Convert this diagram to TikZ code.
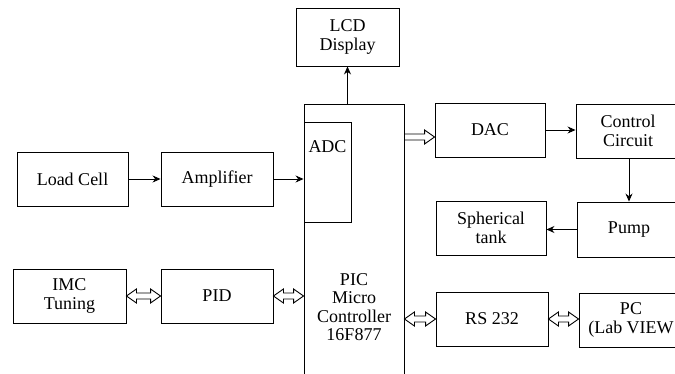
\documentclass[tikz,border=0pt]{standalone}
\usepackage{fontspec}
\setmainfont{Liberation Serif}
\usetikzlibrary{arrows.meta, calc}
% hollow (outline) arrows between two points on one level
\newcommand{\hollowto}[2]{%
  \draw let \p1=(#1), \p2=(#2) in
    (\x1,\y1+3pt) -- (\x2-10pt,\y1+3pt) -- (\x2-10pt,\y1+7pt) -- (\x2,\y1)
    -- (\x2-10pt,\y1-7pt) -- (\x2-10pt,\y1-3pt) -- (\x1,\y1-3pt);}
\newcommand{\hollowboth}[2]{%
  \draw let \p1=(#1), \p2=(#2) in
    (\x1,\y1) -- (\x1+10pt,\y1+7pt) -- (\x1+10pt,\y1+3pt) -- (\x2-10pt,\y1+3pt)
    -- (\x2-10pt,\y1+7pt) -- (\x2,\y1) -- (\x2-10pt,\y1-7pt) -- (\x2-10pt,\y1-3pt)
    -- (\x1+10pt,\y1-3pt) -- (\x1+10pt,\y1-7pt) -- cycle;}
\begin{document}
\begin{tikzpicture}[x=1pt, y=-1pt, every node/.style={draw, line width=0.9pt, align=center, inner sep=0pt, font=\rmfamily\fontsize{18}{18.5}\selectfont}, >={Stealth[length=8pt, width=7pt]}, line width=0.9pt]
  \useasboundingbox (0,0) rectangle (675,374);
  \clip (0,0) rectangle (675,374);
  % boxes
  \node[minimum width=103, minimum height=58] (lcd) at (347.5, 37) {LCD\\Display};
  \node[minimum width=100, minimum height=291] (pic) at (354, 249.5) {};
  \node[minimum width=47, minimum height=100, label={[draw=none, anchor=north, yshift=-19pt]north:ADC}] (adc) at (327.5, 172) {};
  \node[draw=none] (pictext) at (354, 307) {PIC\\Micro\\Controller\\16F877};
  \node[minimum width=110, minimum height=54] (dac) at (490, 130) {DAC};
  \node[minimum width=104, minimum height=54] (ctrl) at (628, 131) {Control\\Circuit};
  \node[minimum width=104, minimum height=55] (pump) at (629, 229.5) {Pump};
  \node[minimum width=110, minimum height=54] (tank) at (491, 228) {Spherical\\tank};
  \node[minimum width=111, minimum height=54] (load) at (72.5, 179) {Load Cell};
  \node[minimum width=112, minimum height=54] (amp) at (217, 179) {Amplifier};
  \node[minimum width=113, minimum height=54] (imc) at (69.5, 296) {IMC\\Tuning};
  \node[minimum width=112, minimum height=54] (pid) at (217, 296) {PID};
  \node[minimum width=112, minimum height=54] (rs) at (492, 319) {RS 232};
  \node[minimum width=104, minimum height=54] (pc) at (631, 320) {PC\\(Lab VIEW};
  % signal arrows
  \draw[->] (lcd.south |- pic.north) -- (lcd.south);
  \draw[->] (load) -- (amp);
  \draw[->] (amp.east) -- (amp.east -| adc.west);
  \draw[->] (dac) -- (dac -| ctrl.west);
  \draw[->] (ctrl.south -| pump.north) -- (pump.north);
  \draw[->] (pump) -- (pump -| tank.east);
  % data links
  \hollowto{$(dac.west -| pic.east)+(0,7)$}{$(dac.west)+(0,7)$}
  \hollowboth{imc.east}{pid.west}
  \hollowboth{pid.east}{pid.east -| pic.west}
  \hollowboth{rs.west -| pic.east}{rs.west}
  \hollowboth{rs.east}{rs.east -| pc.west}
\end{tikzpicture}
\end{document}
